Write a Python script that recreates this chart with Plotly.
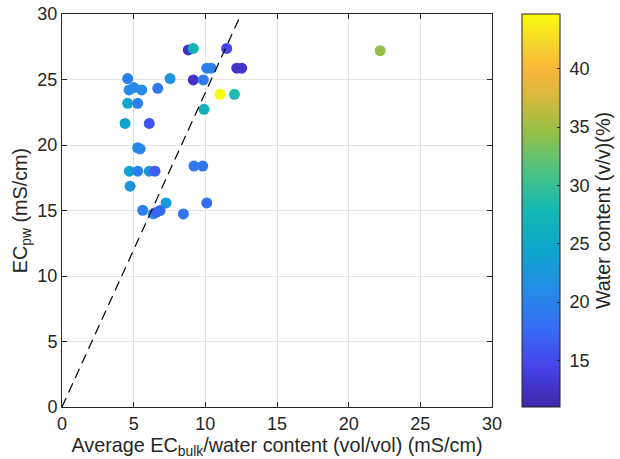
import plotly.graph_objects as go

# Data
ec_bulk_ratio = [8.81, 9.16, 11.49, 10.10, 10.40, 12.19, 12.54, 4.58, 7.54, 9.16,
                 9.86, 4.68, 5.02, 5.56, 6.68, 11.03, 12.03, 4.58, 5.28, 9.91,
                 4.40, 6.09, 5.28, 5.45, 4.70, 5.28, 6.09, 6.49, 9.21, 9.82,
                 4.75, 7.26, 10.10, 5.63, 6.37, 6.61, 6.84, 8.47, 22.20]
ec_pw = [27.26, 27.37, 27.37, 25.86, 25.86, 25.86, 25.86, 25.07, 25.07, 24.97,
         24.97, 24.20, 24.38, 24.20, 24.33, 23.87, 23.87, 23.18, 23.18, 22.72,
         21.65, 21.65, 19.79, 19.70, 18.00, 18.00, 18.00, 18.00, 18.39, 18.39,
         16.86, 15.58, 15.58, 15.02, 14.75, 14.87, 15.00, 14.74, 27.20]
water_content = [12.5, 27.0, 14.5, 20.0, 20.0, 12.8, 12.8, 20.0, 22.0, 12.5,
                 19.0, 21.0, 21.0, 21.0, 19.0, 44.7, 28.5, 24.5, 20.0, 26.5,
                 24.0, 16.0, 20.5, 20.5, 24.0, 20.0, 22.5, 16.5, 19.0, 19.0,
                 22.0, 23.0, 18.0, 20.0, 21.0, 17.5, 17.5, 18.5, 34.5]

line_x = [0, 12.5]
line_y = [0, 30]

x_ticks = [0, 5, 10, 15, 20, 25, 30]
y_ticks = [0, 5, 10, 15, 20, 25, 30]
cb_ticks = [15, 20, 25, 30, 35, 40]
cb_ticktext = ["\u00a0" + str(v) for v in cb_ticks]

parula = [
    [0.00, "rgb(62,38,168)"],
    [0.10, "rgb(70,66,232)"],
    [0.20, "rgb(55,108,245)"],
    [0.30, "rgb(35,140,230)"],
    [0.40, "rgb(15,165,205)"],
    [0.50, "rgb(20,184,180)"],
    [0.60, "rgb(75,195,130)"],
    [0.70, "rgb(150,192,70)"],
    [0.80, "rgb(222,185,60)"],
    [0.86, "rgb(250,182,60)"],
    [0.93, "rgb(245,215,40)"],
    [1.00, "rgb(249,251,14)"],
]

txt = "#262626"
font = "Liberation Sans, Arial, sans-serif"
tick_size = 18
label_size = 19.8

fig = go.Figure()
fig.add_trace(go.Scatter(
    x=ec_bulk_ratio, y=ec_pw, mode="markers",
    marker=dict(size=11, color=water_content, colorscale=parula,
                cmin=11, cmax=44.7, line=dict(width=0),
                colorbar=dict(
                    x=1.0698, xanchor="left", y=0.5, yanchor="middle",
                    len=1, lenmode="fraction", thickness=38, ypad=0, xpad=0,
                    outlinewidth=1, outlinecolor=txt,
                    tickvals=cb_ticks, ticktext=cb_ticktext,
                    ticks="inside", ticklen=3, tickcolor=txt,
                    tickfont=dict(size=tick_size, color=txt, family=font),
                    title=dict(text="Water content (v/v)(%)", side="right",
                               font=dict(size=label_size, color=txt, family=font)),
                )),
    showlegend=False,
))
fig.add_trace(go.Scatter(
    x=line_x, y=line_y, mode="lines",
    line=dict(color="black", width=1.2, dash="10px,6px"),
    showlegend=False,
))

axis_common = dict(
    showgrid=True, gridcolor="#e3e3e3", gridwidth=1,
    showline=True, linecolor=txt, linewidth=1, mirror="ticks",
    ticks="inside", ticklen=5, tickcolor=txt, zeroline=False,
    tickfont=dict(size=tick_size, color=txt, family=font),
)

fig.update_layout(
    width=620, height=459,
    margin=dict(l=62, r=128, t=14, b=52, autoexpand=False),
    plot_bgcolor="white", paper_bgcolor="white",
    font=dict(family=font, color=txt),
    xaxis=dict(range=[0, 30], tickvals=x_ticks,
               title=dict(text="Average EC<sub>bulk</sub>/water content (vol/vol) (mS/cm)",
                          font=dict(size=label_size, color=txt, family=font), standoff=0),
               **axis_common),
    yaxis=dict(range=[0, 30], tickvals=y_ticks,
               title=dict(text="EC<sub>pw</sub> (mS/cm)",
                          font=dict(size=label_size, color=txt, family=font), standoff=4),
               **axis_common),
)

fig.write_html("out.html")
